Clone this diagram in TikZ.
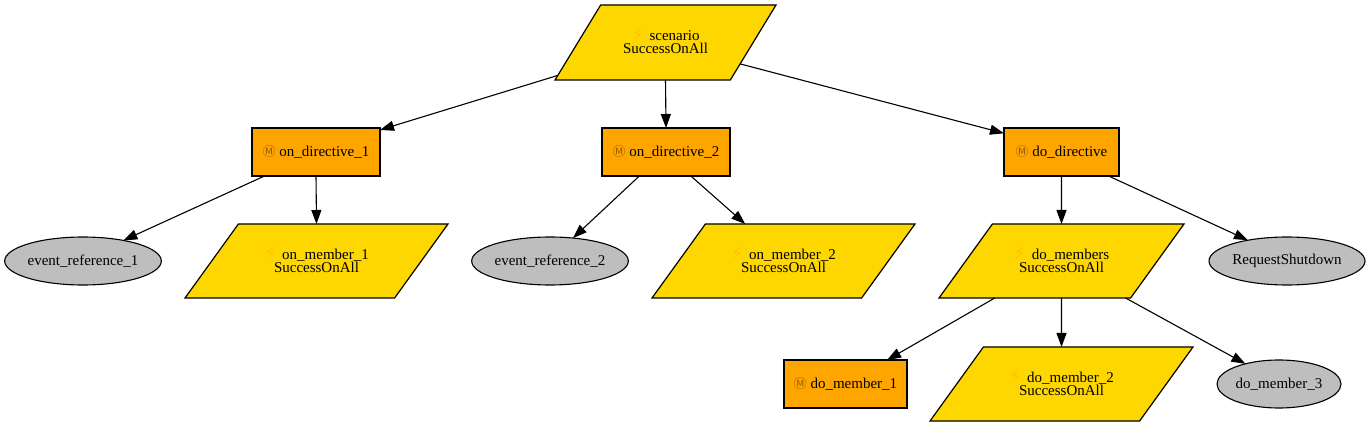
\documentclass[tikz,border=0pt]{standalone}
\usepackage{fontspec}
\setmainfont{Liberation Serif}
\newfontfamily\symfont{DejaVu Sans}
\newfontfamily\memofont{Noto Sans CJK SC}
\usetikzlibrary{shapes.geometric,arrows.meta}
\definecolor{nodegold}{HTML}{FFD700}
\definecolor{nodeorange}{HTML}{FFA500}
\definecolor{nodegray}{HTML}{BEBEBE}
\definecolor{bolticon}{HTML}{FFC000}
\definecolor{memoicon}{HTML}{9A5F00}
\newcommand{\boltmark}{\makebox[18pt][l]{\smash{\symfont\color{bolticon}\fontsize{17}{17}\selectfont\raisebox{0.5pt}{⚡}}}}
\newcommand{\memomark}{{\memofont\color{memoicon}\fontsize{13}{12}\selectfont Ⓜ}}
\tikzset{
  every node/.style={font=\fontsize{15}{13}\selectfont, text=black, align=center, inner sep=0pt, outer sep=0pt},
  boxshape/.style={draw=black, line width=1.05pt, fill=nodeorange, rectangle, minimum height=48pt},
  ovalshape/.style={draw=black, line width=1.1pt, fill=nodegray, ellipse, minimum height=48pt},
  slantshape/.style={draw=black, line width=1.2pt, fill=nodegold, trapezium, trapezium stretches body,
     minimum height=#1},
  slantshape/.default=74pt,
  link/.style={draw=black, line width=1.1pt, -{Triangle[length=14pt,width=10pt]}}
}
\begin{document}
\begin{tikzpicture}[x=1pt,y=-1pt]
\useasboundingbox[fill=white] (0,0) rectangle (1370,427);
\node[slantshape=75pt, trapezium left angle=26.8, trapezium right angle=153.2, minimum width=221pt] (scenario) at (665.5,42.5) {\boltmark scenario\\SuccessOnAll};
\node[boxshape, minimum width=128pt] (ond1) at (316,152) {\memomark\ on\_directive\_1};
\node[boxshape, minimum width=128pt] (ond2) at (666,152) {\memomark\ on\_directive\_2};
\node[boxshape, minimum width=115pt] (dod) at (1061.5,152) {\memomark\ do\_directive};
\node[ovalshape, minimum width=156pt] (ev1) at (83,261) {event\_reference\_1};
\node[slantshape, trapezium left angle=23.8, trapezium right angle=156.2, minimum width=263pt] (onm1) at (316.5,261) {\boltmark on\_member\_1\\SuccessOnAll};
\node[ovalshape, minimum width=156pt] (ev2) at (550,261) {event\_reference\_2};
\node[slantshape, trapezium left angle=23.8, trapezium right angle=156.2, minimum width=263pt] (onm2) at (783.5,261) {\boltmark on\_member\_2\\SuccessOnAll};
\node[slantshape, trapezium left angle=23.8, trapezium right angle=156.2, minimum width=245pt] (dom) at (1061.5,261) {\boltmark do\_members\\SuccessOnAll};
\node[ovalshape, minimum width=156pt] (rs) at (1287,261) {RequestShutdown};
\node[boxshape, minimum width=123pt] (dm1) at (845.5,384) {\memomark\ do\_member\_1};
\node[slantshape, trapezium left angle=23.8, trapezium right angle=156.2, minimum width=263pt] (dm2) at (1061.5,384) {\boltmark do\_member\_2\\SuccessOnAll};
\node[ovalshape, minimum width=124pt] (dm3) at (1279,384) {do\_member\_3};
\draw[link] (scenario.197.5) -- (ond1.19);
\draw[link] (scenario.south) -- (ond2.north);
\draw[link] (scenario.344) -- (dod.162.6);
\draw[link] (ond1.205.6) -- (ev1.27);
\draw[link] (ond1.south) -- (onm1.north);
\draw[link] (ond2.222.7) -- (ev2.45);
\draw[link] (ond2.316) -- (onm2.136.9);
\draw[link] (dod.south) -- (dom.north);
\draw[link] (dod.333.7) -- (rs.152.3);
\draw[link] (dom.209.8) -- (dm1.30);
\draw[link] (dom.south) -- (dm2.north);
\draw[link] (dom.330.9) -- (dm3.149.5);
\end{tikzpicture}
\end{document}
